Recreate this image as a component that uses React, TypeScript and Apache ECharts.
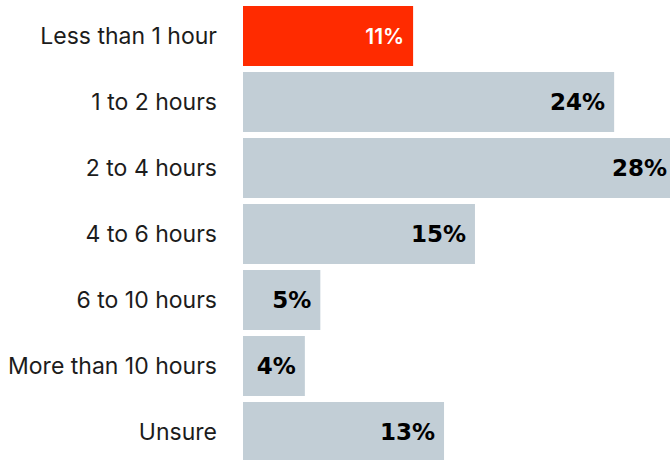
import React, { useEffect, useRef } from "react";
import * as echarts from "echarts";

const categories = [
  "Less than 1 hour",
  "1 to 2 hours",
  "2 to 4 hours",
  "4 to 6 hours",
  "6 to 10 hours",
  "More than 10 hours",
  "Unsure",
];
const values = [11, 24, 28, 15, 5, 4, 13];
const highlightIndex = 0;

export default function App() {
  const ref = useRef<HTMLDivElement>(null);
  useEffect(() => {
    if (!ref.current) return;
    const chart = echarts.init(ref.current, undefined, { renderer: "svg" });
    const data = values.map((v, i) =>
      i === highlightIndex
        ? {
            value: v,
            itemStyle: { color: "#ff2b00" },
            label: {
              color: "#ffffff",
              fontFamily: "Inter",
              fontWeight: 600,
              fontSize: 21,
            },
          }
        : { value: v }
    );
    chart.setOption({
      animation: false,
      grid: {
        left: 243,
        top: 3,
        width: 433,
        height: 462,
        containLabel: false,
        outerBoundsMode: "none",
      },
      xAxis: {
        type: "value",
        min: 0,
        max: 28,
        show: false,
      },
      yAxis: {
        type: "category",
        data: categories,
        inverse: true,
        axisLine: { show: false },
        axisTick: { show: false },
        splitLine: { show: false },
        axisLabel: {
          margin: 26,
          fontFamily: "Inter",
          fontSize: 23,
          color: "#1c1c1c",
        },
      },
      series: [
        {
          type: "bar",
          data,
          barWidth: 60,
          itemStyle: { color: "#c2ced6" },
          label: {
            show: true,
            position: "insideRight",
            distance: 9,
            formatter: "{c}%",
            fontFamily: "DejaVu Sans",
            fontWeight: "bold",
            fontSize: 23,
            color: "#000000",
          },
        },
      ],
    });
    return () => chart.dispose();
  }, []);
  return (
    <div
      ref={ref}
      style={{ position: "absolute", left: 0, top: 0, width: 670, height: 460 }}
    />
  );
}
